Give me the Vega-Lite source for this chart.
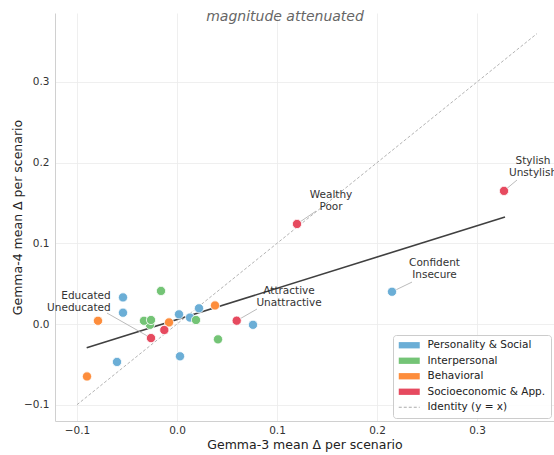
{
  "$schema": "https://vega.github.io/schema/vega-lite/v6.json",
  "width": 499,
  "height": 408,
  "autosize": {"type": "none"},
  "padding": {"left": 55, "top": 13, "right": 0, "bottom": 34},
  "config": {
    "font": "DejaVu Sans",
    "view": {"stroke": null},
    "axis": {
      "grid": true,
      "gridColor": "#ebebeb",
      "gridWidth": 0.8,
      "domainColor": "#d0d0d0",
      "domainWidth": 1,
      "ticks": false,
      "labelFont": "DejaVu Sans",
      "labelFontSize": 10.5,
      "labelColor": "#333333",
      "labelFlush": false,
      "labelOverlap": false,
      "titleFont": "DejaVu Sans",
      "titleFontSize": 12.5,
      "titleFontWeight": "normal",
      "titleColor": "#222222"
    },
    "axisX": {"labelPadding": 4, "titlePadding": 3},
    "axisY": {"labelPadding": 6, "titlePadding": -1}
  },
  "datasets": {
    "points": [
      {"category": "Personality & Social", "gx": -0.054, "gy": 0.033},
      {"category": "Personality & Social", "gx": -0.054, "gy": 0.014},
      {"category": "Personality & Social", "gx": -0.060, "gy": -0.047},
      {"category": "Personality & Social", "gx": 0.002, "gy": 0.012},
      {"category": "Personality & Social", "gx": 0.003, "gy": -0.040},
      {"category": "Personality & Social", "gx": 0.013, "gy": 0.008},
      {"category": "Personality & Social", "gx": 0.022, "gy": 0.0195},
      {"category": "Personality & Social", "gx": 0.076, "gy": -0.001},
      {"category": "Personality & Social", "gx": 0.215, "gy": 0.040},
      {"category": "Interpersonal", "gx": -0.016, "gy": 0.041},
      {"category": "Interpersonal", "gx": -0.027, "gy": -0.001},
      {"category": "Interpersonal", "gx": -0.033, "gy": 0.004},
      {"category": "Interpersonal", "gx": -0.026, "gy": 0.005},
      {"category": "Interpersonal", "gx": 0.019, "gy": 0.005},
      {"category": "Interpersonal", "gx": 0.041, "gy": -0.019},
      {"category": "Behavioral", "gx": -0.079, "gy": 0.004},
      {"category": "Behavioral", "gx": -0.008, "gy": 0.002},
      {"category": "Behavioral", "gx": 0.038, "gy": 0.023},
      {"category": "Behavioral", "gx": -0.090, "gy": -0.065},
      {"category": "Socioeconomic & App.", "gx": -0.026, "gy": -0.0174},
      {"category": "Socioeconomic & App.", "gx": -0.0127, "gy": -0.0074},
      {"category": "Socioeconomic & App.", "gx": 0.0597, "gy": 0.0041},
      {"category": "Socioeconomic & App.", "gx": 0.120, "gy": 0.124},
      {"category": "Socioeconomic & App.", "gx": 0.327, "gy": 0.165}
    ],
    "identity": [
      {"category": "Identity (y = x)", "gx": -0.1, "gy": -0.1},
      {"category": "Identity (y = x)", "gx": 0.36, "gy": 0.36}
    ],
    "fit": [
      {"gx": -0.0903, "gy": -0.0294},
      {"gx": 0.328, "gy": 0.1326}
    ],
    "labels": [
      {"label": "Educated\nUneducated", "gx": -0.026, "gy": -0.0174, "lx": -0.070, "ly": 0.0136, "tx": -0.0663, "ty": 0.0347},
      {"label": "Attractive\nUnattractive", "gx": 0.0597, "gy": 0.0041, "lx": 0.080, "ly": 0.0186, "tx": 0.112, "ty": 0.0409},
      {"label": "Wealthy\nPoor", "gx": 0.120, "gy": 0.124, "lx": 0.139, "ly": 0.140, "tx": 0.154, "ty": 0.1599},
      {"label": "Confident\nInsecure", "gx": 0.215, "gy": 0.040, "lx": 0.235, "ly": 0.052, "tx": 0.2575, "ty": 0.0756},
      {"label": "Stylish\nUnstylish", "gx": 0.327, "gy": 0.165, "lx": 0.340, "ly": 0.1785, "tx": 0.356, "ty": 0.2021}
    ],
    "heading": [
      {"text": "magnitude attenuated", "tx": 0.108, "ty": 0.381}
    ]
  },
  "layer": [
    {
      "data": {"name": "identity"},
      "mark": {"type": "line", "strokeDash": [3, 2], "strokeWidth": 0.9},
      "encoding": {
        "x": {"field": "gx", "type": "quantitative", "title": "Gemma-3 mean Δ per scenario",
              "scale": {"domain": [-0.122, 0.377], "nice": false, "zero": false},
              "axis": {"values": [-0.1, 0, 0.1, 0.2, 0.3], "format": ".1f"}},
        "y": {"field": "gy", "type": "quantitative", "title": "Gemma-4 mean Δ per scenario",
              "scale": {"domain": [-0.1202, 0.3855], "nice": false, "zero": false},
              "axis": {"values": [-0.1, 0, 0.1, 0.2, 0.3], "format": ".1f"}},
        "color": {
          "field": "category", "type": "nominal",
          "scale": {
            "domain": ["Personality & Social", "Interpersonal", "Behavioral", "Socioeconomic & App.", "Identity (y = x)"],
            "range": ["#6baed6", "#74c476", "#fd8d3c", "#e64a5f", "#aaaaaa"]
          },
          "legend": {
            "title": null,
            "orient": "bottom-right",
            "offset": 3,
            "padding": 5,
            "fillColor": "rgba(255,255,255,0.85)",
            "strokeColor": "#cccccc",
            "cornerRadius": 3,
            "labelFont": "DejaVu Sans",
            "labelFontSize": 10.5,
            "labelColor": "#222222",
            "symbolSize": 100,
            "symbolOffset": 6,
            "labelOffset": 13,
            "rowPadding": 4.5,
            "encode": {
              "symbols": {
                "update": {
                  "shape": {"signal": "datum.value === 'Identity (y = x)' ? 'M-2.1,0H2.1' : 'M-2.1,-0.63H2.1V0.63H-2.1Z'"},
                  "fill": {"signal": "datum.value === 'Identity (y = x)' ? 'transparent' : scale('color', datum.value)"},
                  "stroke": {"signal": "datum.value === 'Identity (y = x)' ? '#aaaaaa' : 'transparent'"},
                  "strokeWidth": {"signal": "datum.value === 'Identity (y = x)' ? 1 : 0"},
                  "strokeDash": {"signal": "datum.value === 'Identity (y = x)' ? [3, 2] : [1, 0]"},
                  "opacity": {"value": 1}
                }
              }
            }
          }
        }
      }
    },
    {
      "data": {"name": "fit"},
      "mark": {"type": "line", "color": "#404040", "strokeWidth": 1.6},
      "encoding": {
        "x": {"field": "gx", "type": "quantitative", "title": "Gemma-3 mean Δ per scenario"},
        "y": {"field": "gy", "type": "quantitative", "title": "Gemma-4 mean Δ per scenario"}
      }
    },
    {
      "data": {"name": "labels"},
      "mark": {"type": "rule", "color": "#aaaaaa", "strokeWidth": 0.8},
      "encoding": {
        "x": {"field": "gx", "type": "quantitative", "title": "Gemma-3 mean Δ per scenario"},
        "y": {"field": "gy", "type": "quantitative", "title": "Gemma-4 mean Δ per scenario"},
        "x2": {"field": "lx"},
        "y2": {"field": "ly"}
      }
    },
    {
      "data": {"name": "points"},
      "mark": {"type": "circle", "size": 85, "opacity": 1, "stroke": "white", "strokeWidth": 0.8},
      "encoding": {
        "x": {"field": "gx", "type": "quantitative", "title": "Gemma-3 mean Δ per scenario"},
        "y": {"field": "gy", "type": "quantitative", "title": "Gemma-4 mean Δ per scenario"},
        "color": {"field": "category", "type": "nominal"}
      }
    },
    {
      "data": {"name": "labels"},
      "transform": [{"filter": "indexof(datum.label, 'Educated') === 0"}],
      "mark": {"type": "text", "fontSize": 10.5, "color": "#333333", "lineBreak": "\n", "lineHeight": 11.8, "baseline": "middle", "align": "right"},
      "encoding": {
        "x": {"field": "tx", "type": "quantitative", "title": "Gemma-3 mean Δ per scenario"},
        "y": {"field": "ty", "type": "quantitative", "title": "Gemma-4 mean Δ per scenario"},
        "text": {"field": "label", "type": "nominal"}
      }
    },
    {
      "data": {"name": "labels"},
      "transform": [{"filter": "indexof(datum.label, 'Educated') !== 0"}],
      "mark": {"type": "text", "fontSize": 10.5, "color": "#333333", "lineBreak": "\n", "lineHeight": 11.8, "baseline": "middle", "align": "center"},
      "encoding": {
        "x": {"field": "tx", "type": "quantitative", "title": "Gemma-3 mean Δ per scenario"},
        "y": {"field": "ty", "type": "quantitative", "title": "Gemma-4 mean Δ per scenario"},
        "text": {"field": "label", "type": "nominal"}
      }
    },
    {
      "data": {"name": "heading"},
      "mark": {"type": "text", "fontSize": 14, "fontStyle": "italic", "color": "#666666", "baseline": "middle", "align": "center"},
      "encoding": {
        "x": {"field": "tx", "type": "quantitative", "title": "Gemma-3 mean Δ per scenario"},
        "y": {"field": "ty", "type": "quantitative", "title": "Gemma-4 mean Δ per scenario"},
        "text": {"field": "text", "type": "nominal"}
      }
    }
  ]
}
